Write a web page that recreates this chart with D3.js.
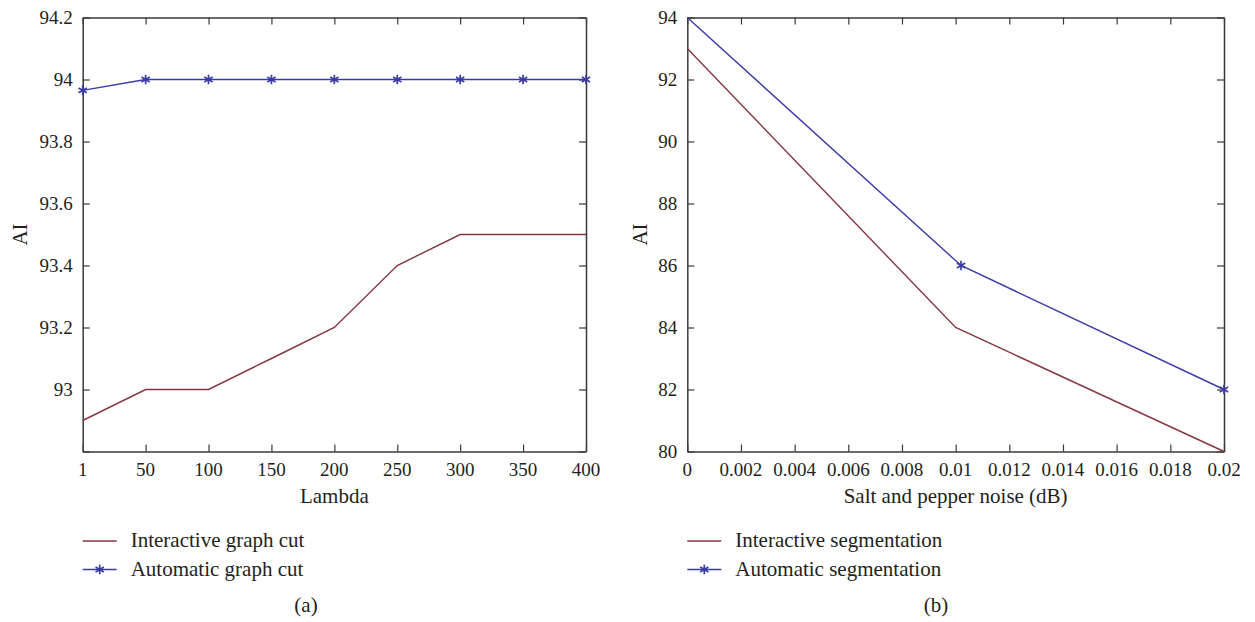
<!DOCTYPE html>
<html>
<head>
<meta charset="utf-8">
<script src="https://cdn.jsdelivr.net/npm/d3@7"></script>
<style>
  body { margin: 0; background: #fff; }
  svg text { font-family: "Liberation Serif", "DejaVu Serif", serif; fill: #231f20; }
</style>
</head>
<body>
<div id="chart"></div>
<script>
// panel (a)
var lambdaLabels = ["1", "50", "100", "150", "200", "250", "300", "350", "400"];
var interactiveCut = [92.9, 93.0, 93.0, 93.1, 93.2, 93.4, 93.5, 93.5, 93.5];
var automaticCut = [93.965, 94, 94, 94, 94, 94, 94, 94, 94];
var aTicks = [92.8, 93, 93.2, 93.4, 93.6, 93.8, 94, 94.2];

// panel (b)
var noiseTicks = [0, 0.002, 0.004, 0.006, 0.008, 0.01, 0.012, 0.014, 0.016, 0.018, 0.02];
var interactiveSegX = [0, 0.01, 0.02];
var interactiveSeg = [93, 84, 80];
var automaticSegX = [0, 0.0102, 0.02];
var automaticSeg = [94, 86, 82];
var bTicks = [80, 82, 84, 86, 88, 90, 92, 94];

var red = "#853640", blue = "#3b3ba6", axisColor = "#3a3a3a";

var svg = d3.select("#chart").append("svg")
  .attr("width", 1255).attr("height", 622);

var star = d3.symbol().type(d3.symbolAsterisk).size(64);

function drawPanel(p) {
  var g = svg.append("g");
  var x = p.x, y = p.y;
  var x0 = x.range()[0], x1 = x.range()[1];
  var y0 = y.range()[0], y1 = y.range()[1];

  // box frame with inward ticks on all sides
  g.append("g").attr("transform", "translate(0," + y0 + ")")
    .call(d3.axisBottom(x).tickValues(p.xTicks).tickSizeInner(-7).tickSizeOuter(0).tickFormat(""));
  g.append("g").attr("transform", "translate(0," + y1 + ")")
    .call(d3.axisTop(x).tickValues(p.xTicks).tickSizeInner(-7).tickSizeOuter(0).tickFormat(""));
  g.append("g").attr("transform", "translate(" + x0 + ",0)")
    .call(d3.axisLeft(y).tickValues(p.yTicks).tickSizeInner(-7).tickSizeOuter(0).tickFormat(""));
  g.append("g").attr("transform", "translate(" + x1 + ",0)")
    .call(d3.axisRight(y).tickValues(p.yTicks).tickSizeInner(-7).tickSizeOuter(0).tickFormat(""));
  g.selectAll(".domain").attr("stroke", axisColor).attr("stroke-width", 1.5);
  g.selectAll(".tick line").attr("stroke", axisColor).attr("stroke-width", 1.2);

  // tick labels
  g.selectAll(".xl").data(p.xTicks).enter().append("text")
    .attr("x", function(d) { return x(d); })
    .attr("y", y0 + 24.5)
    .attr("text-anchor", "middle")
    .style("font-size", "19px")
    .text(function(d, i) { return p.xFmt(d, i); });
  g.selectAll(".yl").data(p.yTicks.filter(p.yShow)).enter().append("text")
    .attr("x", x0 - 10)
    .attr("y", function(d) { return y(d) + 6.5; })
    .attr("text-anchor", "end")
    .style("font-size", "19px")
    .text(function(d) { return d3.format("~g")(d); });

  // axis titles
  g.append("text")
    .attr("transform", "translate(" + p.yTitleX + "," + (y0 + y1) / 2 + ") rotate(-90)")
    .attr("text-anchor", "middle")
    .style("font-size", "21px")
    .text("AI");
  g.append("text")
    .attr("x", (x0 + x1) / 2).attr("y", 503)
    .attr("text-anchor", "middle")
    .style("font-size", "21px")
    .text(p.xTitle);

  // series
  var line = d3.line().x(function(d) { return x(d[0]); }).y(function(d) { return y(d[1]); });
  p.series.forEach(function(s) {
    g.append("path").datum(s.pts)
      .attr("fill", "none").attr("stroke", s.color).attr("stroke-width", 1.4)
      .attr("d", line);
    if (s.marker) {
      g.selectAll(null).data(s.pts.filter(s.showMarker)).enter().append("path")
        .attr("d", star)
        .attr("transform", function(d) { return "translate(" + x(d[0]) + "," + y(d[1]) + ")"; })
        .attr("fill", "none").attr("stroke", s.color).attr("stroke-width", 1.7);
    }
  });

  // legend
  p.series.forEach(function(s, i) {
    var ly = 541 + i * 28.5;
    g.append("line")
      .attr("x1", x0).attr("x2", x0 + 34).attr("y1", ly).attr("y2", ly)
      .attr("stroke", s.color).attr("stroke-width", 1.4);
    if (s.marker) {
      g.append("path").attr("d", star)
        .attr("transform", "translate(" + (x0 + 17) + "," + ly + ")")
        .attr("fill", "none").attr("stroke", s.color).attr("stroke-width", 1.7);
    }
    g.append("text")
      .attr("x", x0 + 48).attr("y", ly + 6)
      .style("font-size", "21px")
      .text(s.name);
  });

  g.append("text")
    .attr("x", p.captionX).attr("y", 612)
    .attr("text-anchor", "middle")
    .style("font-size", "21px")
    .text(p.caption);
}

var idx = d3.range(lambdaLabels.length);
drawPanel({
  x: d3.scaleLinear().domain([0, 8]).range([82.7, 586]),
  y: d3.scaleLinear().domain([92.8, 94.2]).range([451.5, 17.5]),
  xTicks: idx,
  xFmt: function(d, i) { return lambdaLabels[i]; },
  yTicks: aTicks,
  yShow: function(d) { return d > 92.9; },
  yTitleX: 27,
  xTitle: "Lambda",
  caption: "(a)",
  captionX: 306,
  series: [
    { name: "Interactive graph cut", color: red, marker: false,
      pts: idx.map(function(i) { return [i, interactiveCut[i]]; }) },
    { name: "Automatic graph cut", color: blue, marker: true,
      showMarker: function() { return true; },
      pts: idx.map(function(i) { return [i, automaticCut[i]]; }) }
  ]
});

drawPanel({
  x: d3.scaleLinear().domain([0, 0.02]).range([687.3, 1224]),
  y: d3.scaleLinear().domain([80, 94]).range([451.5, 17.5]),
  xTicks: noiseTicks,
  xFmt: function(d) { return d3.format("~g")(d); },
  yTicks: bTicks,
  yShow: function() { return true; },
  yTitleX: 647,
  xTitle: "Salt and pepper noise (dB)",
  caption: "(b)",
  captionX: 936,
  series: [
    { name: "Interactive segmentation", color: red, marker: false,
      pts: interactiveSegX.map(function(v, i) { return [v, interactiveSeg[i]]; }) },
    { name: "Automatic segmentation", color: blue, marker: true,
      showMarker: function(d) { return d[0] > 0; },
      pts: automaticSegX.map(function(v, i) { return [v, automaticSeg[i]]; }) }
  ]
});
</script>
</body>
</html>
